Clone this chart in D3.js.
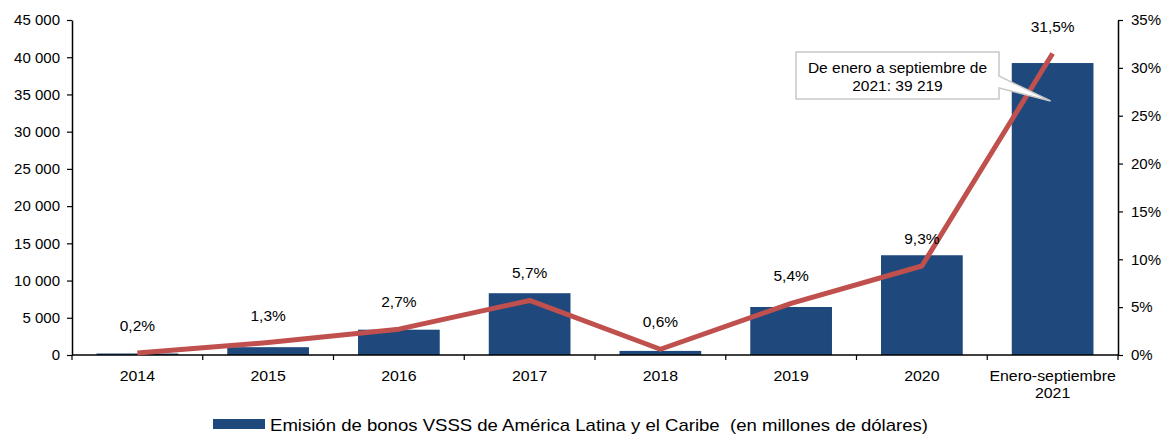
<!DOCTYPE html>
<html>
<head>
<meta charset="utf-8">
<script src="https://cdn.jsdelivr.net/npm/d3@7"></script>
<style>
  body { margin: 0; background: #fff; }
  text { font-family: "Liberation Sans", Arial, sans-serif; fill: #000; white-space: pre; }
</style>
</head>
<body>
<div id="chart"></div>
<script>
// data
const categories = ["2014", "2015", "2016", "2017", "2018", "2019", "2020", "Enero-septiembre\n2021"];
const emission = [200, 1050, 3400, 8300, 550, 6450, 13400, 39219];
const shareLabels = ["0,2%", "1,3%", "2,7%", "5,7%", "0,6%", "5,4%", "9,3%", "31,5%"];
const share = [0.2, 1.3, 2.7, 5.7, 0.6, 5.4, 9.3, 31.5];
const leftTicks = [0, 5000, 10000, 15000, 20000, 25000, 30000, 35000, 40000, 45000];
const rightTicks = [0, 5, 10, 15, 20, 25, 30, 35];
const legendLabel = "Emisión de bonos VSSS de América Latina y el Caribe  (en millones de dólares)";
const calloutText = ["De enero a septiembre de", "2021: 39 219"];

const width = 1170, height = 435;
const margin = { left: 72, right: 52, top: 20, bottom: 80 };
const font = "Liberation Sans, Arial, sans-serif";

const svg = d3.select("#chart").append("svg")
  .attr("width", width)
  .attr("height", height);

const x = d3.scaleBand()
  .domain(categories)
  .range([margin.left, width - margin.right])
  .paddingInner(0.375)
  .paddingOuter(0.1875);

const yLeft = d3.scaleLinear().domain([0, 45000]).range([height - margin.bottom, margin.top]);
const yRight = d3.scaleLinear().domain([0, 35]).range([height - margin.bottom, margin.top]);

const fmt = d => d3.format(",")(d).replace(/,/g, " ");

// the source text is a bit wider than Liberation Sans, stretch it a little
function stretch(sel, k) {
  sel.each(function () {
    const w = this.getComputedTextLength();
    d3.select(this).attr("textLength", w * k).attr("lengthAdjust", "spacingAndGlyphs");
  });
}

// bars
svg.append("g")
  .selectAll("rect")
  .data(emission)
  .join("rect")
  .attr("x", (d, i) => x(categories[i]))
  .attr("y", d => yLeft(d))
  .attr("width", x.bandwidth())
  .attr("height", d => yLeft(0) - yLeft(d))
  .attr("fill", "#1f497d");

// left axis
const axL = svg.append("g")
  .attr("transform", `translate(${margin.left},0)`)
  .call(d3.axisLeft(yLeft).tickValues(leftTicks).tickFormat(fmt).tickSize(5).tickSizeOuter(0));
axL.select(".domain").attr("stroke", "#000").attr("stroke-width", 1.5);
axL.selectAll(".tick line").attr("stroke", "#000").attr("stroke-width", 1.2);
axL.selectAll("text").attr("font-size", 15).attr("font-family", font).attr("fill", "#000").attr("dx", -4);

// right axis
const axR = svg.append("g")
  .attr("transform", `translate(${width - margin.right},0)`)
  .call(d3.axisRight(yRight).tickValues(rightTicks).tickFormat(d => d + "%").tickSize(5).tickSizeOuter(0));
axR.select(".domain").attr("stroke", "#000").attr("stroke-width", 1.5);
axR.selectAll(".tick line").attr("stroke", "#000").attr("stroke-width", 1.2);
axR.selectAll("text").attr("font-size", 15).attr("font-family", font).attr("fill", "#000").attr("dx", 5);

// bottom axis with ticks between categories
const y0 = yLeft(0);
const step = x.step();
const bounds = d3.range(categories.length + 1).map(i => margin.left + i * step);
svg.append("line")
  .attr("x1", margin.left).attr("x2", width - margin.right)
  .attr("y1", y0).attr("y2", y0)
  .attr("stroke", "#000").attr("stroke-width", 1.5);
svg.append("g").selectAll("line")
  .data(bounds)
  .join("line")
  .attr("x1", d => d).attr("x2", d => d)
  .attr("y1", y0).attr("y2", y0 + 5)
  .attr("stroke", "#000").attr("stroke-width", 1.2);

const xl = svg.append("g").selectAll("text")
  .data(categories)
  .join("text")
  .attr("x", d => x(d) + x.bandwidth() / 2)
  .attr("y", y0 + 26)
  .attr("text-anchor", "middle")
  .attr("font-size", 15)
  .each(function (d) {
    d.split("\n").forEach((t, i) => {
      d3.select(this).append("tspan")
        .attr("x", x(d) + x.bandwidth() / 2)
        .attr("dy", i === 0 ? 0 : 17)
        .text(t);
    });
  });
stretch(xl.selectAll("tspan"), 1.06);

// line
const line = d3.line()
  .x((d, i) => x(categories[i]) + x.bandwidth() / 2)
  .y(d => yRight(d));

svg.append("path")
  .datum(share)
  .attr("d", line)
  .attr("fill", "none")
  .attr("stroke", "#c0504d")
  .attr("stroke-width", 5)
  .attr("stroke-linejoin", "round");

svg.append("g").selectAll("text")
  .data(share)
  .join("text")
  .attr("x", (d, i) => x(categories[i]) + x.bandwidth() / 2)
  .attr("y", d => yRight(d) - 22)
  .attr("text-anchor", "middle")
  .attr("font-size", 15.5)
  .text((d, i) => shareLabels[i]);

// callout
const last = categories[categories.length - 1];
const tipX = x(last) + x.bandwidth() / 2 - 2;
const tipY = yLeft(emission[emission.length - 1]) + 38;
const bx = 796, by = 52, bw = 203, bh = 47;
svg.append("path")
  .attr("d", `M${bx},${by} H${bx + bw} V${by + 24} L${tipX},${tipY} L${bx + bw},${by + 36} V${by + bh} H${bx} Z`)
  .attr("fill", "#fff")
  .attr("stroke", "#c8c8c8")
  .attr("stroke-width", 1.5);
svg.append("text")
  .attr("x", bx + bw / 2)
  .attr("y", by + 21)
  .attr("text-anchor", "middle")
  .attr("font-size", 15.5)
  .selectAll("tspan")
  .data(calloutText)
  .join("tspan")
  .attr("x", bx + bw / 2)
  .attr("dy", (d, i) => i === 0 ? 0 : 18)
  .text(d => d);

// legend
svg.append("rect")
  .attr("x", 213).attr("y", 419)
  .attr("width", 52).attr("height", 10)
  .attr("fill", "#1f497d");
svg.append("text")
  .attr("x", 270).attr("y", 431)
  .attr("font-size", 17)
  .attr("textLength", 658)
  .attr("lengthAdjust", "spacingAndGlyphs")
  .text(legendLabel);
</script>
</body>
</html>
